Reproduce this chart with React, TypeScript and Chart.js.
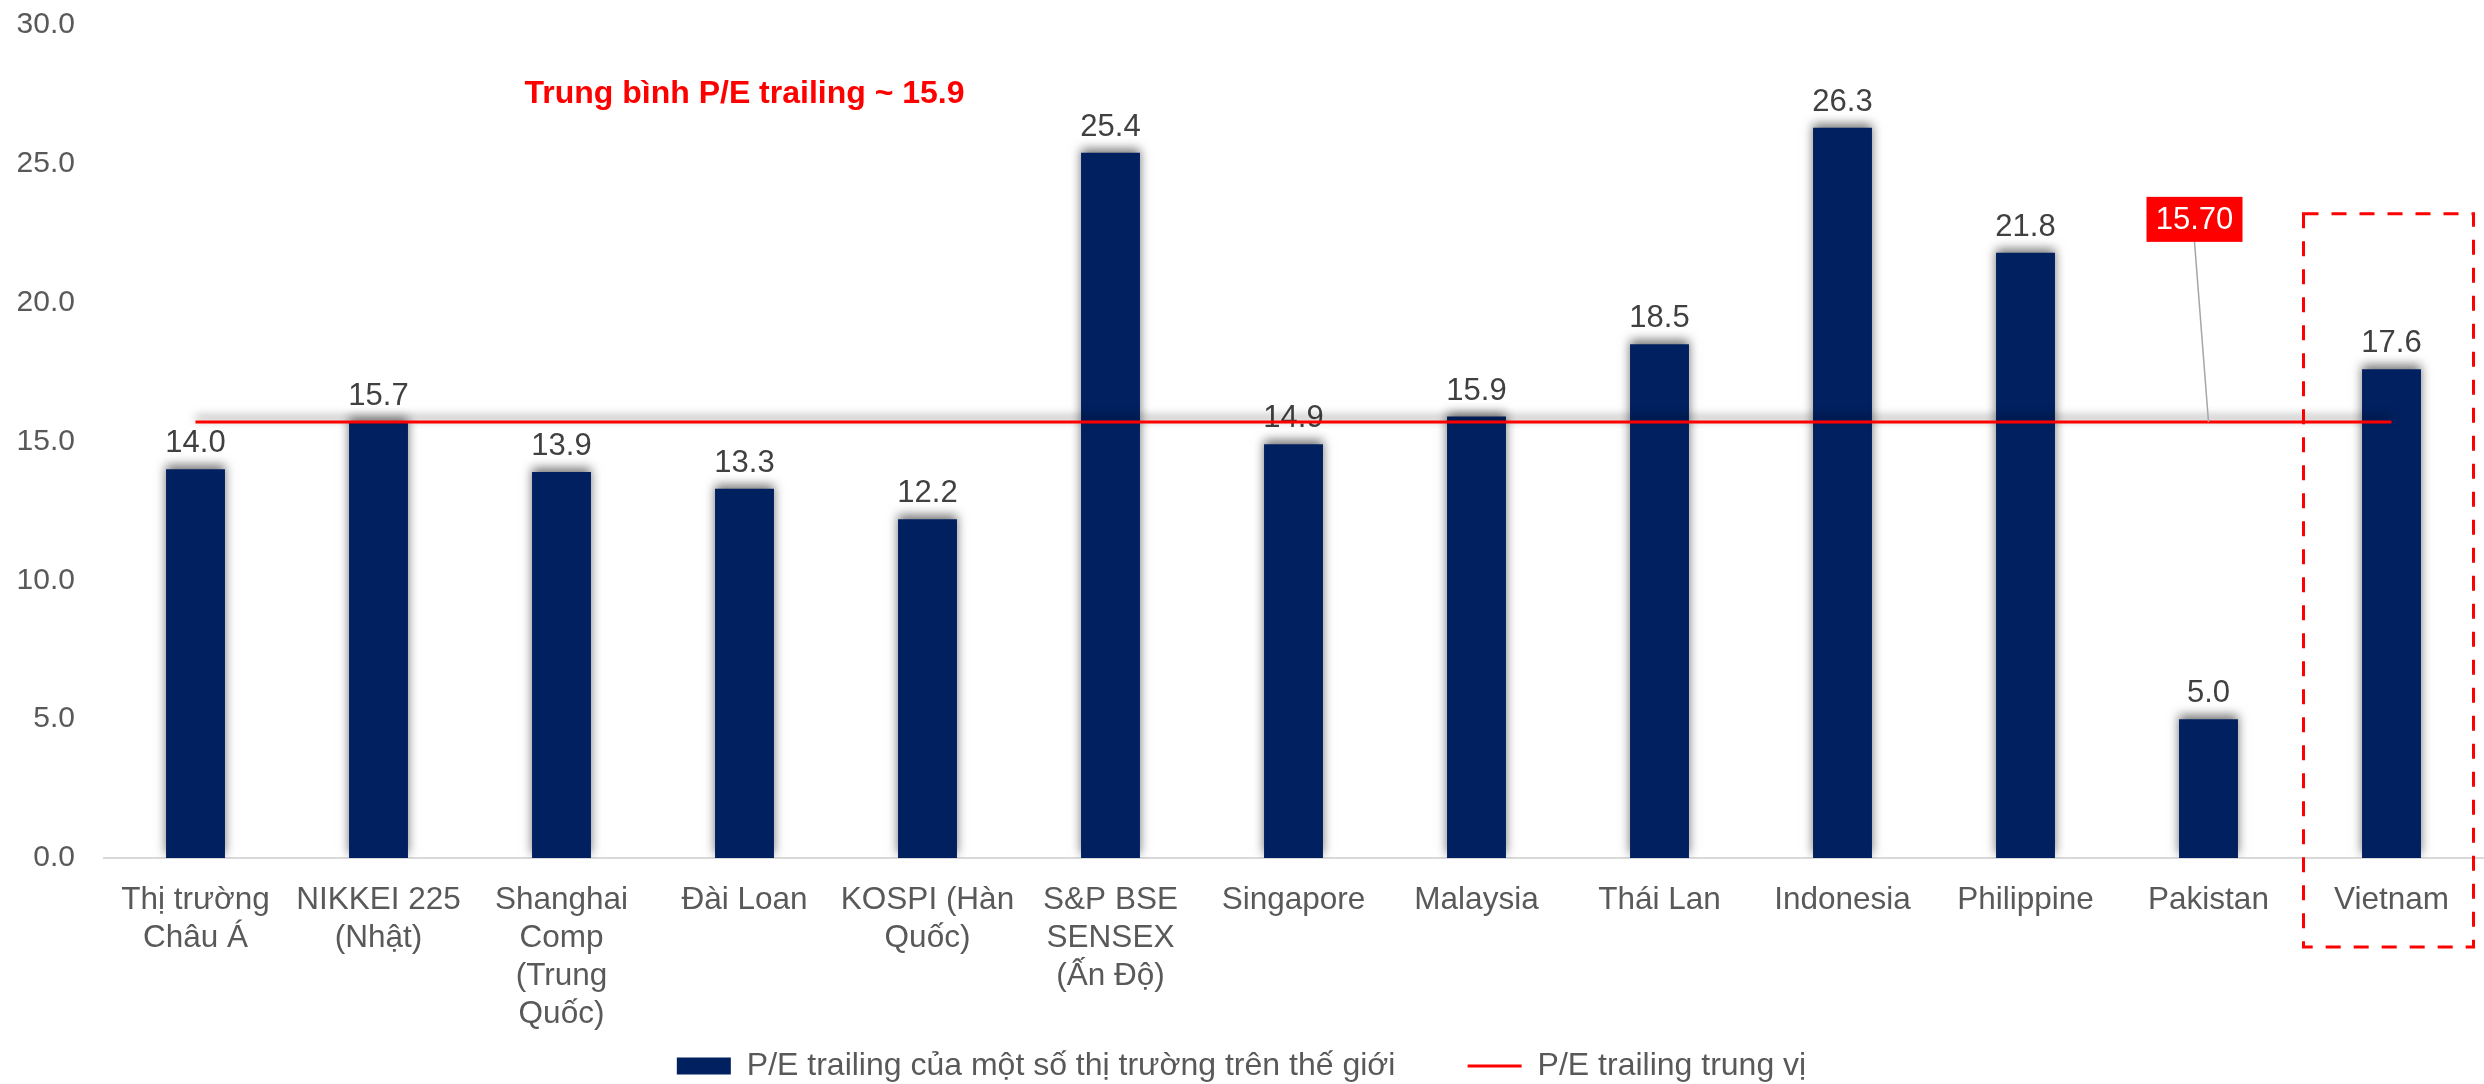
import React, { useEffect, useRef } from 'react';
import { Chart, registerables } from 'chart.js';

Chart.register(...registerables);

const categories: (string | string[])[] = [
  ['Thị trường', 'Châu Á'],
  ['NIKKEI 225', '(Nhật)'],
  ['Shanghai', 'Comp', '(Trung', 'Quốc)'],
  'Đài Loan',
  ['KOSPI (Hàn', 'Quốc)'],
  ['S&P BSE', 'SENSEX', '(Ấn Độ)'],
  'Singapore',
  'Malaysia',
  'Thái Lan',
  'Indonesia',
  'Philippine',
  'Pakistan',
  'Vietnam',
];

const peValues = [14.0, 15.7, 13.9, 13.3, 12.2, 25.4, 14.9, 15.9, 18.5, 26.3, 21.8, 5.0, 17.6];
const medianValues = [15.7, 15.7, 15.7, 15.7, 15.7, 15.7, 15.7, 15.7, 15.7, 15.7, 15.7, 15.7, 15.7];
const medianValue = 15.7;

const yMin = 0;
const yMax = 30;
const yStep = 5;

const barSeriesName = 'P/E trailing của một số thị trường trên thế giới';
const lineSeriesName = 'P/E trailing trung vị';
const averageNote = 'Trung bình P/E trailing ~ 15.9';

const highlightIndex = 12; // Vietnam
const calloutIndex = 11;
const noteIndex = 3;

const FONT = '"Liberation Sans", Arial, sans-serif';
const NAVY = '#002060';
const RED = '#FF0000';

const shadowPlugin = {
  id: 'shadowPlugin',
  beforeDatasetDraw(chart: any) {
    const ctx = chart.ctx;
    ctx.save();
    ctx.shadowColor = 'rgba(0,0,0,0.55)';
    ctx.shadowBlur = 10;
    ctx.shadowOffsetX = 0;
    ctx.shadowOffsetY = -4;
  },
  afterDatasetDraw(chart: any, args: any) {
    const ctx = chart.ctx;
    ctx.restore();
    if (args.index === 0) {
      const meta = chart.getDatasetMeta(0);
      ctx.save();
      ctx.fillStyle = '#404040';
      ctx.font = `31px ${FONT}`;
      ctx.textAlign = 'center';
      ctx.textBaseline = 'alphabetic';
      meta.data.forEach((el: any, i: number) => {
        ctx.fillText(peValues[i].toFixed(1), el.x, el.y - 17);
      });
      ctx.restore();
    }
  },
};

const annotationPlugin = {
  id: 'annotationPlugin',
  afterDraw(chart: any) {
    const ctx = chart.ctx;
    const xs = chart.scales.x;
    const ys = chart.scales.y;
    ctx.save();

    // average note
    ctx.fillStyle = RED;
    ctx.font = `bold 32px ${FONT}`;
    ctx.textAlign = 'center';
    ctx.textBaseline = 'alphabetic';
    ctx.fillText(averageNote, xs.getPixelForValue(noteIndex), ys.getPixelForValue(27.2));

    // callout leader + box
    const ax = xs.getPixelForValue(calloutIndex);
    const ay = ys.getPixelForValue(medianValue);
    const bx = ax - 14;
    const by = ys.getPixelForValue(23.0);
    const bw = 96;
    const bh = 45;
    ctx.strokeStyle = '#A6A6A6';
    ctx.lineWidth = 1.5;
    ctx.beginPath();
    ctx.moveTo(bx, by + bh / 2);
    ctx.lineTo(ax, ay);
    ctx.stroke();
    ctx.fillStyle = RED;
    ctx.fillRect(bx - bw / 2, by - bh / 2, bw, bh);
    ctx.fillStyle = '#FFFFFF';
    ctx.font = `31px ${FONT}`;
    ctx.textBaseline = 'middle';
    ctx.fillText(medianValue.toFixed(2), bx, by + 1);

    // dashed highlight around Vietnam
    const vx = xs.getPixelForValue(highlightIndex);
    const left = vx - 88;
    const right = vx + 82;
    const top = ys.getPixelForValue(23.2);
    const bottom = ys.bottom + 89;
    ctx.strokeStyle = RED;
    ctx.lineWidth = 3;
    ctx.setLineDash([15, 13]);
    ctx.strokeRect(left, top, right - left, bottom - top);
    ctx.restore();
  },
};

export default function App() {
  const ref = useRef<HTMLCanvasElement>(null);
  useEffect(() => {
    if (!ref.current) return;
    const chart = new Chart(ref.current, {
      type: 'bar',
      data: {
        labels: categories as any,
        datasets: [
          {
            type: 'bar',
            label: barSeriesName,
            data: peValues,
            backgroundColor: NAVY,
            borderWidth: 0,
            barPercentage: 0.322,
            categoryPercentage: 1,
            pointStyle: 'rect',
            order: 1,
          } as any,
          {
            type: 'line',
            label: lineSeriesName,
            data: medianValues,
            borderColor: RED,
            backgroundColor: RED,
            borderWidth: 3,
            pointRadius: 0,
            pointHoverRadius: 0,
            pointStyle: 'line',
            fill: false,
            tension: 0,
            order: 0,
          } as any,
        ],
      },
      options: {
        responsive: false,
        devicePixelRatio: 1,
        animation: false,
        layout: { padding: { top: 25, right: 1, left: 0, bottom: -8 } },
        plugins: {
          legend: {
            position: 'bottom',
            labels: {
              usePointStyle: true,
              pointStyleWidth: 54,
              boxHeight: 17,
              padding: 10,
              color: '#595959',
              font: { family: FONT, size: 32 },
              sort: (a: any, b: any) => a.datasetIndex - b.datasetIndex,
              generateLabels: (chart: any) => {
                const items = Chart.defaults.plugins.legend.labels.generateLabels(chart);
                return items.map((it: any) =>
                  it.datasetIndex === 0 ? { ...it, text: it.text + '       ' } : it
                );
              },
            },
          },
          tooltip: { enabled: false },
        },
        scales: {
          x: {
            grid: { display: false, drawTicks: false },
            border: { display: true, color: '#D9D9D9', width: 2 },
            ticks: {
              color: '#595959',
              font: { family: FONT, size: 31.5, lineHeight: 1.21 },
              padding: 23,
              maxRotation: 0,
              autoSkip: false,
            },
            afterFit: (scale: any) => {
              scale.height = 182;
            },
          },
          y: {
            min: yMin,
            max: yMax,
            grid: { display: false, drawTicks: true, tickLength: 29 },
            border: { display: false },
            ticks: {
              stepSize: yStep,
              color: '#595959',
              font: { family: FONT, size: 30 },
              padding: 0,
              callback: (v: any) => Number(v).toFixed(1),
            },
            afterFit: (scale: any) => {
              scale.width = 104;
              scale.paddingTop = 0;
              scale.paddingBottom = 0;
            },
          },
        },
      } as any,
      plugins: [shadowPlugin, annotationPlugin],
    });
    return () => chart.destroy();
  }, []);
  return (
    <div style={{ position: 'fixed', left: 0, top: 0, width: 2484, height: 1084, background: '#fff' }}>
      <canvas ref={ref} width={2484} height={1084} style={{ display: 'block' }} />
    </div>
  );
}
